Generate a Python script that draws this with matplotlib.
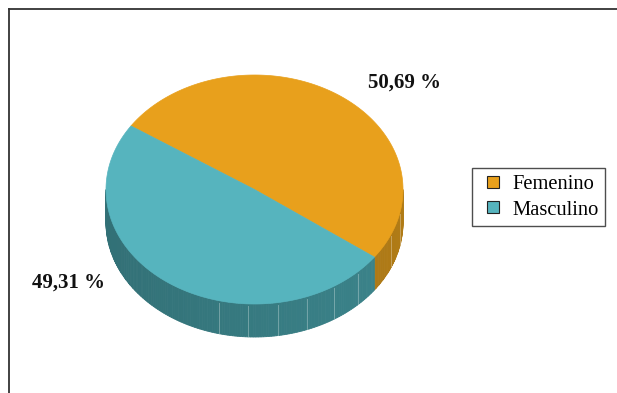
import numpy as np
import matplotlib
matplotlib.use("Agg")
import matplotlib.pyplot as plt
from matplotlib.patches import Polygon
from matplotlib.lines import Line2D
from matplotlib.colors import to_rgb

# ---- data ----
categorias = ["Femenino", "Masculino"]
porcentajes = [50.69, 49.31]
etiquetas = ["50,69 %", "49,31 %"]

C_TOP = ["#e8a01c", "#56b4be"]
C_SIDE = ["#b07b16", "#3b848b"]

plt.rcParams.update({"font.family": ["Liberation Serif", "DejaVu Serif"]})

W, H = 617, 393
fig = plt.figure(figsize=(W / 100, H / 100), dpi=100)
ax = fig.add_axes([0, 0, 1, 1])
ax.set_xlim(0, W); ax.set_ylim(H, 0); ax.axis("off")

# pie geometry (pixels, y down)
cx, cy = 254.5, 189.5
ra, rb = 148.5, 114.5
depth = 33
start = 146.3          # first slice begins here and runs clockwise


def pt(th, dy=0.0):
    t = np.radians(th)
    return cx + ra * np.cos(t), cy - rb * np.sin(t) + dy


# slice angle ranges (clockwise from start)
rng = []
a0 = start
for p in porcentajes:
    a1 = a0 - 360 * p / 100.0
    rng.append((a1, a0))
    a0 = a1


def shade(col, th):
    # mild lighting across the wall: darker to the left, lighter to the right
    f = 0.85 + 0.15 * (np.cos(np.radians(th)) + 1) / 2
    r, g, b = to_rgb(col)
    return (r * f, g * f, b * f)


# side walls: only the front half (180..360) is visible
for (lo, hi), col in zip(rng, C_SIDE):
    for off in (0, 360, -360):
        l, h = lo + off, hi + off
        s0, s1 = max(l, 180), min(h, 360)
        if s1 <= s0:
            continue
        edges = np.linspace(s0, s1, max(2, int((s1 - s0) / 1.0) + 1))
        for e0, e1 in zip(edges[:-1], edges[1:]):
            th = np.linspace(e0, e1, 3)
            top = [pt(t) for t in th]
            bot = [pt(t, depth) for t in th[::-1]]
            c = shade(col, (e0 + e1) / 2)
            ax.add_patch(Polygon(top + bot, closed=True, facecolor=c,
                                 edgecolor=c, lw=0.6, zorder=2))
        # faint facet seams on the lit part of the wall
        for t in np.arange(256.0, 361.0, 11.6):
            if t - s0 < 2 or s1 - t < 2:
                continue
            x0, y0 = pt(t)
            ax.plot([x0, x0], [y0 + 2, y0 + depth - 1], color="white",
                    lw=0.7, alpha=0.3, zorder=3)

# top faces
for (lo, hi), col in zip(rng, C_TOP):
    th = np.linspace(lo, hi, 300)
    verts = [(cx, cy)] + [pt(t) for t in th]
    ax.add_patch(Polygon(verts, closed=True, facecolor=col, edgecolor=col,
                         lw=0.5, zorder=4))

# percentage labels
pos_lab = [(404, 83), (68, 283)]
for (x, y), txt in zip(pos_lab, etiquetas):
    ax.text(x, y, txt, ha="center", va="center", fontsize=15,
            fontweight="bold", color="#111111", zorder=5)

# outer frame (top and left edges)
fig.add_artist(Line2D([8.5 / W, 1], [1 - 9 / H, 1 - 9 / H], color="#333333",
                      lw=1.3, transform=fig.transFigure))
fig.add_artist(Line2D([8.5 / W, 8.5 / W], [0, 1 - 9 / H], color="#333333",
                      lw=1.3, transform=fig.transFigure))

handles = [Line2D([], [], marker="s", markersize=9, linestyle="None",
                  markerfacecolor=c, markeredgecolor="#222222",
                  markeredgewidth=0.8, label=n)
           for n, c in zip(categorias, C_TOP)]
leg = fig.legend(handles=handles, loc="upper left",
                 bbox_to_anchor=(472 / W, 1 - 168 / H), borderaxespad=0,
                 fancybox=False, frameon=True, fontsize=14.8,
                 handlelength=1.4, handletextpad=0.24,
                 labelspacing=0.3, borderpad=0.32)
leg.get_frame().set_edgecolor("#222222")
leg.get_frame().set_linewidth(1.0)

fig.savefig("out.png", dpi=100, facecolor="white")
